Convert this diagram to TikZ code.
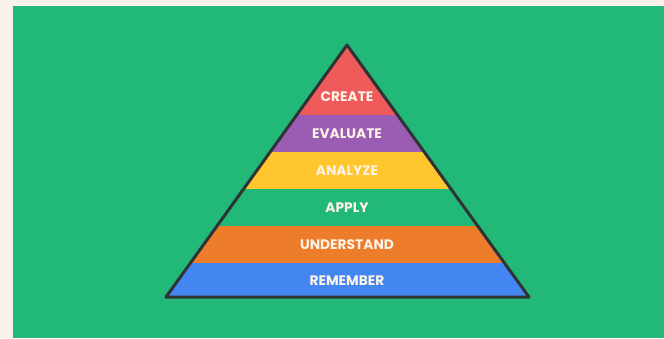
\documentclass[tikz,border=0pt]{standalone}
\usepackage{fontspec}
\setmainfont{Poppins}
\usetikzlibrary{positioning}

\definecolor{paper}{HTML}{FAF1EB}
\definecolor{bggreen}{HTML}{22B877}
\definecolor{createred}{HTML}{EF5B5B}
\definecolor{evalpurple}{HTML}{9B5CB4}
\definecolor{analyzeyellow}{HTML}{FFC62E}
\definecolor{applygreen}{HTML}{22B877}
\definecolor{understandorange}{HTML}{EE7D2B}
\definecolor{rememberblue}{HTML}{4386F2}
\definecolor{labeltext}{HTML}{FDF3E7}
\definecolor{edge}{HTML}{2E3436}

\begin{document}
\begin{tikzpicture}[
  x=1pt, y=-1pt,
  level/.style={font=\bfseries\fontsize{13.8}{16}\selectfont, text=labeltext, inner sep=0pt},
  outline/.style={draw=edge, line width=3pt, line join=round}
]
  % background
  \fill[paper] (0,0) rectangle (664,338);
  \fill[bggreen] (13,6) rectangle (664,338);

  % pyramid bands
  \begin{scope}
    \clip (347,45) -- (529,297) -- (166,297) -- cycle;
    \fill[createred]        (160,40)  rectangle (535,115);
    \fill[evalpurple]       (160,115) rectangle (535,152);
    \fill[analyzeyellow]    (160,152) rectangle (535,189);
    \fill[applygreen]       (160,189) rectangle (535,226);
    \fill[understandorange] (160,226) rectangle (535,263);
    \fill[rememberblue]     (160,263) rectangle (535,300);
  \end{scope}
  \draw[outline] (347,45) -- (529,297) -- (166,297) -- cycle;

  % labels
  \node[level] (create)     at (347,97)  {CREATE};
  \node[level] (evaluate)   at (347,134) {EVALUATE};
  \node[level] (analyze)    at (347,171) {ANALYZE};
  \node[level] (apply)      at (347,208) {APPLY};
  \node[level] (understand) at (347,245) {UNDERSTAND};
  \node[level] (remember)   at (347,281) {REMEMBER};
\end{tikzpicture}
\end{document}
